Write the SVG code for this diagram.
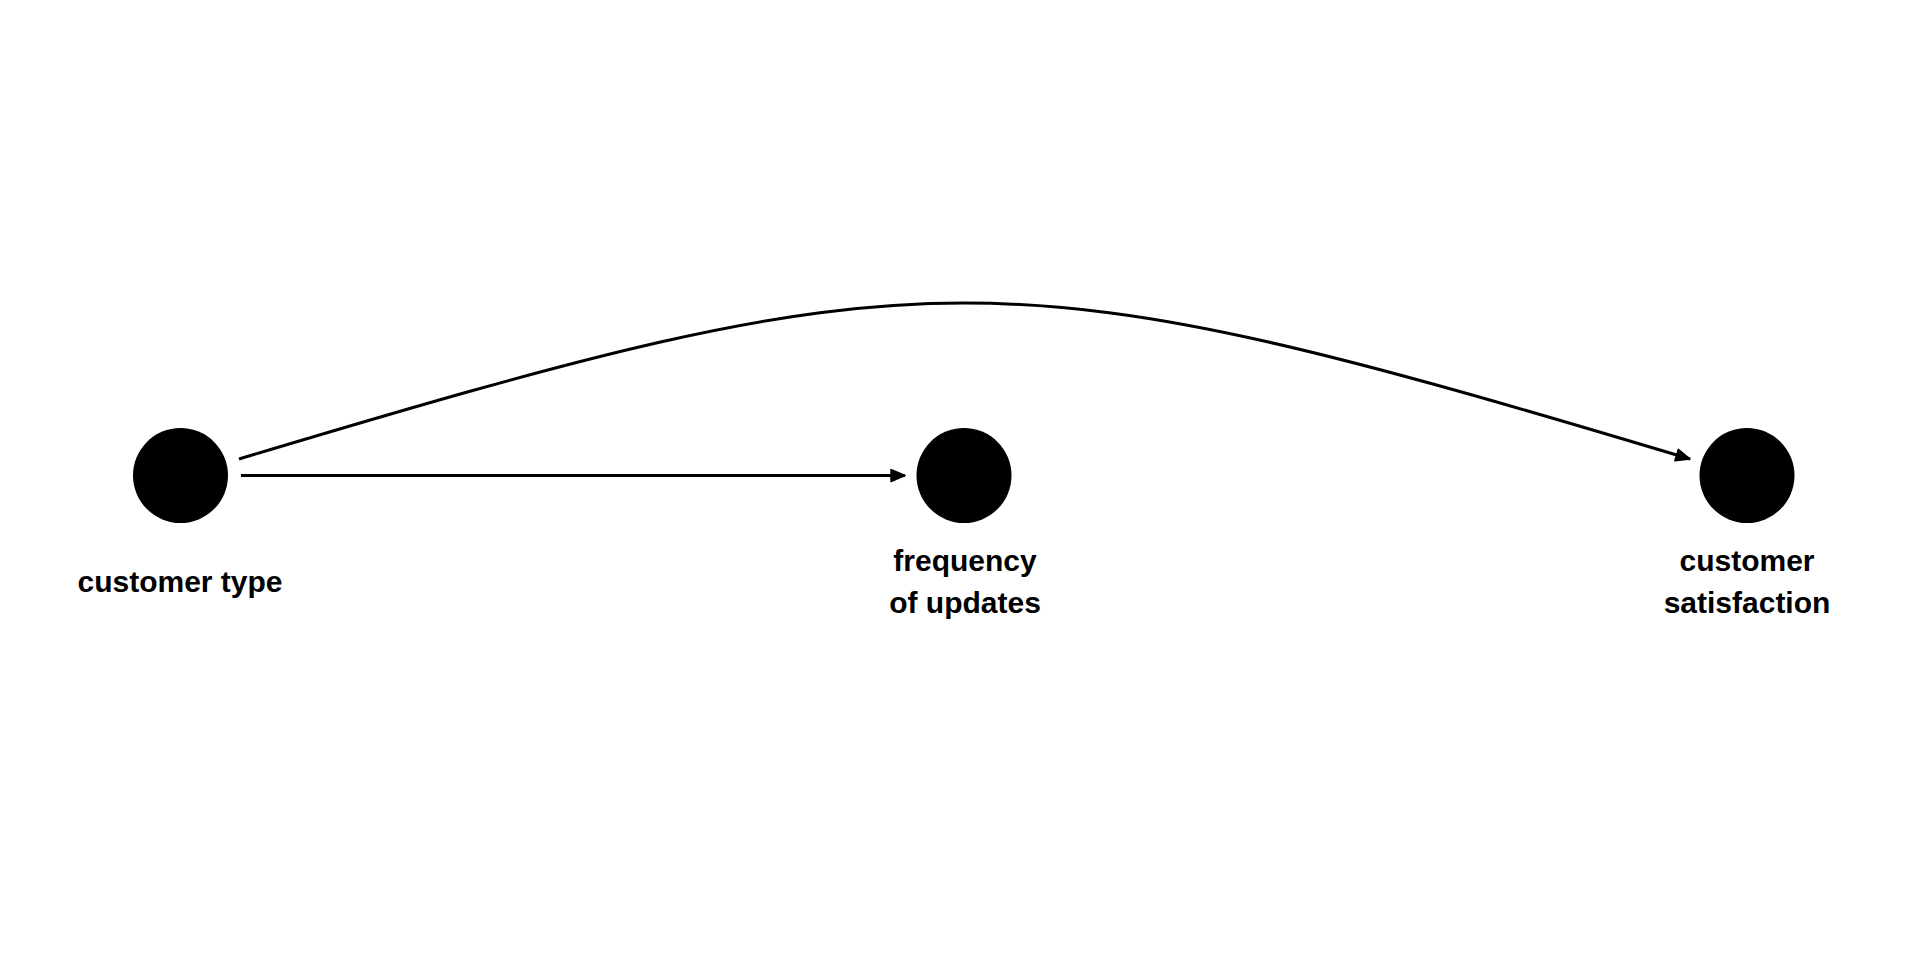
<svg xmlns="http://www.w3.org/2000/svg" width="1920" height="960" viewBox="0 0 1920 960">
<style>
.node{fill:#000}
.lbl{font-family:"Liberation Sans",Arial,sans-serif;font-weight:bold;font-size:30px;fill:#000;text-anchor:middle}
.edge{fill:none;stroke:#000;stroke-width:3}
</style>
<defs>
<marker id="arr" viewBox="0 0 16 14" refX="15" refY="7" markerWidth="16" markerHeight="14" markerUnits="userSpaceOnUse" orient="auto">
<path d="M1,1 L15,7 L1,13 Z" fill="#000" stroke="#000" stroke-width="1.5" stroke-linejoin="round"/>
</marker>
</defs>
<rect width="1920" height="960" fill="#fff"/>
<g id="connectors">
<path class="edge" d="M241,475.5 L905,475.5" marker-end="url(#arr)"/>
<path class="edge" d="M239,459 C932,251 997,251 1690,459" marker-end="url(#arr)"/>
</g>
<g id="node-customer-type">
<circle class="node" cx="180.5" cy="475.5" r="47.5"/>
<text class="lbl" x="180" y="592">customer type</text>
</g>
<g id="node-frequency-of-updates">
<circle class="node" cx="964" cy="475.5" r="47.5"/>
<text class="lbl" x="965" y="571">frequency</text>
<text class="lbl" x="965" y="613">of updates</text>
</g>
<g id="node-customer-satisfaction">
<circle class="node" cx="1747" cy="475.5" r="47.5"/>
<text class="lbl" x="1747" y="571">customer</text>
<text class="lbl" x="1747" y="613">satisfaction</text>
</g>
</svg>
